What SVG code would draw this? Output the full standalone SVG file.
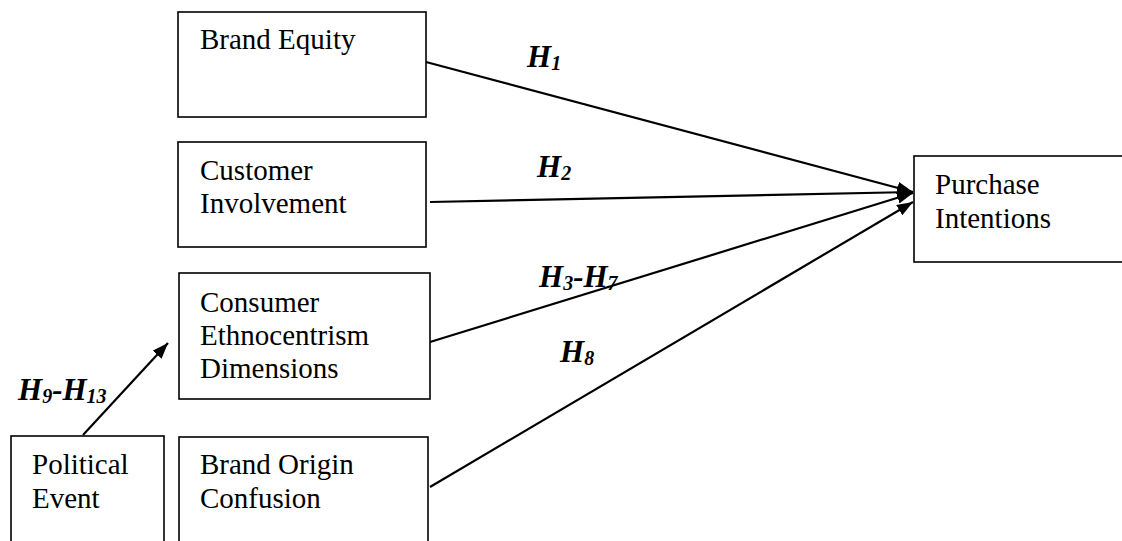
<svg xmlns="http://www.w3.org/2000/svg" width="1122" height="541" viewBox="0 0 1122 541">
<defs>
<marker id="ah" viewBox="0 0 16 12" refX="16" refY="6" markerWidth="16" markerHeight="12" markerUnits="userSpaceOnUse" orient="auto">
<path d="M0,0 L16,6 L0,12 Z" fill="#000"/>
</marker>
<style>
.box{fill:#fff;stroke:#000;stroke-width:1.6}
.t{font-family:"Liberation Serif","Times New Roman",serif;font-size:29px;fill:#000}
.h{font-family:"Liberation Serif","Times New Roman",serif;font-size:31px;font-weight:bold;font-style:italic;fill:#000}
.s{font-size:20px}
.c{stroke:#000;stroke-width:2.2;fill:none;marker-end:url(#ah)}
</style>
</defs>
<rect width="1122" height="541" fill="#fff"/>
<g id="connectors">
<line class="c" x1="426" y1="62" x2="913" y2="192"/>
<line class="c" x1="430" y1="202" x2="913" y2="192"/>
<line class="c" x1="430" y1="342" x2="913" y2="193"/>
<line class="c" x1="430" y1="487" x2="913" y2="202"/>
<line class="c" x1="83" y1="435" x2="168" y2="343"/>
</g>
<g id="labels">
<text class="h" x="527" y="67">H<tspan class="s" dy="3">1</tspan></text>
<text class="h" x="537" y="177">H<tspan class="s" dy="3">2</tspan></text>
<text class="h" x="539" y="287">H<tspan class="s" dy="3">3</tspan><tspan dy="-3">-H</tspan><tspan class="s" dy="3">7</tspan></text>
<text class="h" x="560" y="362">H<tspan class="s" dy="3">8</tspan></text>
<text class="h" x="18" y="400">H<tspan class="s" dy="3">9</tspan><tspan dy="-3">-H</tspan><tspan class="s" dy="3">13</tspan></text>
</g>
<g id="brand-equity">
<rect class="box" x="178" y="12" width="248" height="105"/>
<text class="t" x="200" y="49">Brand Equity</text>
</g>
<g id="customer-involvement">
<rect class="box" x="178" y="142" width="248" height="105"/>
<text class="t" x="200" y="180">Customer</text>
<text class="t" x="200" y="213">Involvement</text>
</g>
<g id="consumer-ethnocentrism">
<rect class="box" x="179" y="273" width="251" height="126"/>
<text class="t" x="200" y="312">Consumer</text>
<text class="t" x="200" y="345">Ethnocentrism</text>
<text class="t" x="200" y="378">Dimensions</text>
</g>
<g id="political-event">
<rect class="box" x="11" y="436" width="153" height="110"/>
<text class="t" x="32" y="474">Political</text>
<text class="t" x="32" y="508">Event</text>
</g>
<g id="brand-origin-confusion">
<rect class="box" x="179" y="437" width="249" height="110"/>
<text class="t" x="200" y="474">Brand Origin</text>
<text class="t" x="200" y="508">Confusion</text>
</g>
<g id="purchase-intentions">
<rect class="box" x="914" y="156" width="210" height="106"/>
<text class="t" x="935" y="194">Purchase</text>
<text class="t" x="935" y="228">Intentions</text>
</g>
</svg>
